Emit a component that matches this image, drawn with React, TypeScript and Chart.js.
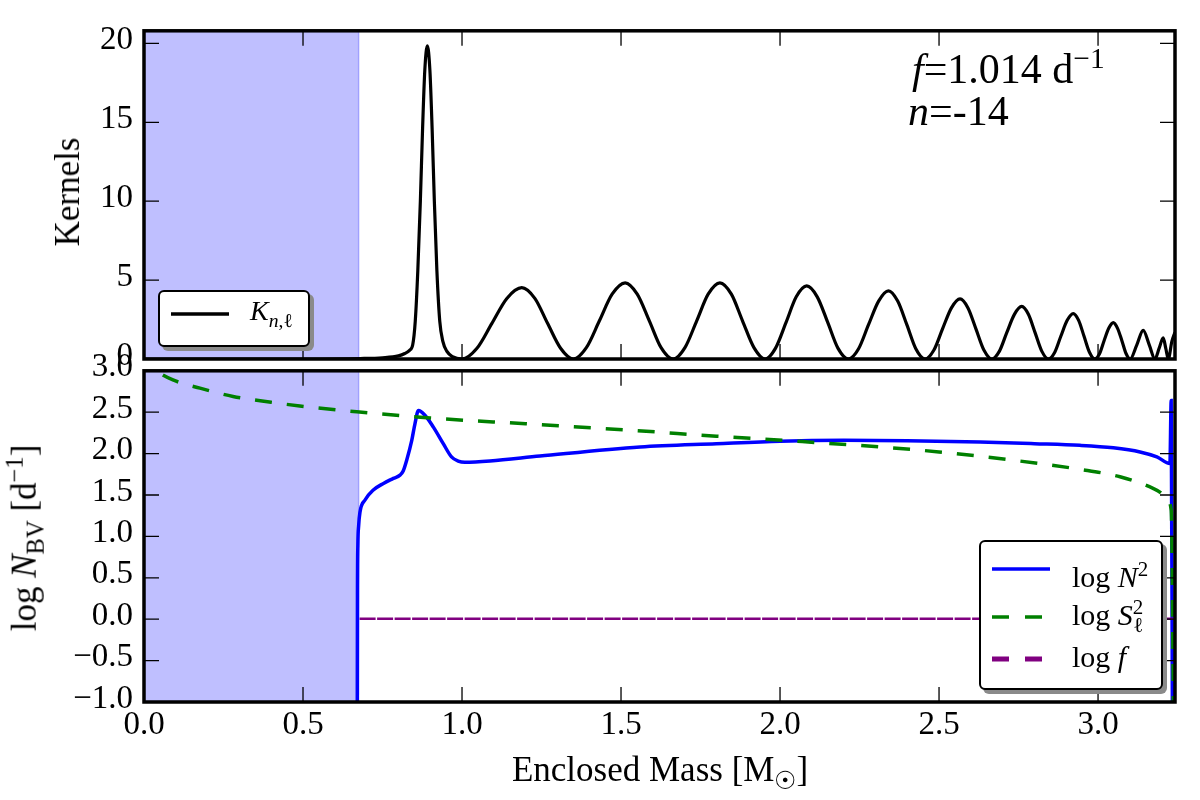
import { useEffect, useRef } from "react";
import type { ReactNode, CSSProperties } from "react";
import { Chart, registerables } from "chart.js";
import type { Plugin } from "chart.js";

Chart.register(...registerables);

//  Data

const CORE_EDGE = 0.675; // edge of the shaded convective core, M_sun
const MASS_MAX = 3.242;
const KERNEL_MAX = 20.8;
const LOGN_MIN = -1;
const LOGN_MAX = 3;

const MASS_TICKS = [0, 0.5, 1, 1.5, 2, 2.5, 3];
const KERNEL_TICKS = [0, 5, 10, 15, 20];
const LOGN_TICKS = [-1, -0.5, 0, 0.5, 1, 1.5, 2, 2.5, 3];

// kernel K_{n,l}
const KERNEL_MASS = [
  0, 0.5, 0.68, 0.75, 0.8, 0.82, 0.835, 0.845, 0.853, 0.861, 0.869, 0.876,
  0.883, 0.891, 0.899, 0.906, 0.913, 0.921, 0.93, 0.94, 0.952, 0.97, 1.0,
  1.047, 1.094, 1.141, 1.188, 1.229, 1.269, 1.31, 1.35,
  1.391, 1.432, 1.472, 1.513, 1.551, 1.589, 1.626, 1.664,
  1.701, 1.738, 1.774, 1.811, 1.847, 1.882, 1.918, 1.953,
  1.986, 2.019, 2.051, 2.084, 2.117, 2.15, 2.182, 2.215,
  2.247, 2.278, 2.31, 2.341, 2.37, 2.399, 2.427, 2.456,
  2.484, 2.511, 2.539, 2.566, 2.591, 2.616, 2.641, 2.666,
  2.69, 2.713, 2.737, 2.76, 2.781, 2.802, 2.823, 2.844,
  2.864, 2.883, 2.903, 2.922, 2.939, 2.956, 2.973, 2.99,
  3.005, 3.019, 3.034, 3.048, 3.061, 3.075, 3.088, 3.101,
  3.122, 3.142, 3.161, 3.179,
  3.192, 3.205, 3.213, 3.221,
  3.232, 3.242,
];
const KERNEL_VALUE = [
  0, 0, 0.03, 0.08, 0.2, 0.35, 0.55, 0.9, 2.4, 5.6, 10.0, 14.6,
  18.3, 19.85, 18.3, 14.6, 10.0, 5.6, 2.4, 1.1, 0.5, 0.15, 0,
  0.68, 2.26, 3.84, 4.52, 3.84, 2.26, 0.68, 0,
  0.72, 2.42, 4.11, 4.83, 4.11, 2.42, 0.72, 0,
  0.72, 2.42, 4.11, 4.83, 4.11, 2.42, 0.72, 0,
  0.69, 2.32, 3.94, 4.63, 3.94, 2.32, 0.69, 0,
  0.65, 2.16, 3.67, 4.32, 3.67, 2.16, 0.65, 0,
  0.57, 1.91, 3.24, 3.81, 3.24, 1.91, 0.57, 0,
  0.5, 1.67, 2.83, 3.33, 2.83, 1.67, 0.5, 0,
  0.43, 1.44, 2.45, 2.88, 2.45, 1.44, 0.43, 0,
  0.35, 1.16, 1.96, 2.31, 1.96, 1.16, 0.35, 0,
  0.9, 1.81, 0.9, 0,
  0.67, 1.34, 0.67, 0,
  1.1, 1.7,
];

// log N^2 (Brunt-Vaisala)
const N2_MASS = [
  0.6705, 0.6712, 0.6725, 0.675, 0.679, 0.695, 0.721, 0.753, 0.784, 0.805,
  0.815, 0.826, 0.842, 0.852, 0.863, 0.884, 0.91, 0.941, 0.967, 0.988, 1.009,
  1.088, 1.245, 1.56, 1.8, 2.0, 2.2, 2.4, 2.629, 2.8, 2.943, 3.048, 3.132,
  3.185, 3.226, 3.23, 3.234,
];
const N2_LOG = [
  -1.5, 0.3, 0.9, 1.13, 1.29, 1.44, 1.56, 1.64, 1.7, 1.74,
  1.79, 1.92, 2.16, 2.36, 2.52, 2.46, 2.32, 2.12, 1.96, 1.91, 1.895,
  1.91, 1.97, 2.08, 2.12, 2.15, 2.16, 2.155, 2.14, 2.12, 2.1, 2.07, 2.02,
  1.96, 1.88, 2.64, -1.5,
];

// log S_l^2 (Lamb)
const S2_MASS = [
  0, 0.02, 0.04, 0.091, 0.176, 0.28, 0.4, 0.49, 0.669, 0.9, 1.2, 1.539,
  1.8, 2.05, 2.314, 2.5, 2.733, 2.943, 3.069, 3.173, 3.2, 3.218, 3.23, 3.238,
];
const S2_LOG = [
  3.25, 3.08, 3.0, 2.89, 2.79, 2.69, 2.62, 2.575, 2.505, 2.43, 2.36, 2.28,
  2.21, 2.15, 2.08, 2.02, 1.92, 1.81, 1.72, 1.58, 1.52, 1.44, 1.32, -1.5,
];

// log f, f = 1.014 d^-1
const F_MASS = [0.678, 3.236];
const F_LOG = [0.006, 0.006];

//  Styling

const SERIF = "'Liberation Serif', 'DejaVu Serif', serif";
const TICK_FONT = { family: "'Liberation Serif', serif", size: 33 };
const TICK_LEN = 15;

const pts = (xs: number[], ys: number[]) => xs.map((x, i) => ({ x, y: ys[i] }));

const fmtLog = (v: number) =>
  v < 0 ? "\u2212" + Math.abs(v).toFixed(1) : v.toFixed(1);

// shaded core, inward ticks on all four sides, heavy frame
const panelDecor: Plugin<"line"> = {
  id: "panelDecor",
  beforeDatasetsDraw(chart) {
    const { ctx, chartArea: a, scales } = chart;
    const edge = scales.x.getPixelForValue(CORE_EDGE);
    ctx.save();
    ctx.fillStyle = "rgba(0,0,255,0.25)";
    ctx.fillRect(a.left, a.top, edge - a.left, a.bottom - a.top);
    ctx.strokeStyle = "rgba(0,0,255,0.25)";
    ctx.lineWidth = 1.5;
    ctx.beginPath();
    ctx.moveTo(edge, a.top);
    ctx.lineTo(edge, a.bottom);
    ctx.stroke();
    ctx.restore();
  },
  afterDraw(chart) {
    const { ctx, chartArea: a, scales } = chart;
    ctx.save();
    ctx.strokeStyle = "#000";
    ctx.lineWidth = 1.3;
    ctx.beginPath();
    scales.x.ticks.forEach((t) => {
      const px = scales.x.getPixelForValue(t.value);
      ctx.moveTo(px, a.bottom);
      ctx.lineTo(px, a.bottom - TICK_LEN);
      ctx.moveTo(px, a.top);
      ctx.lineTo(px, a.top + TICK_LEN);
    });
    scales.y.ticks.forEach((t) => {
      const py = scales.y.getPixelForValue(t.value);
      ctx.moveTo(a.left, py);
      ctx.lineTo(a.left + TICK_LEN, py);
      ctx.moveTo(a.right, py);
      ctx.lineTo(a.right - TICK_LEN, py);
    });
    ctx.stroke();
    ctx.lineWidth = 3.5;
    ctx.strokeRect(a.left, a.top, a.right - a.left, a.bottom - a.top);
    ctx.restore();
  },
};

function xScale(showLabels: boolean, height: number) {
  return {
    type: "linear" as const,
    min: 0,
    max: MASS_MAX,
    afterBuildTicks: (s: any) => {
      s.ticks = MASS_TICKS.map((value) => ({ value }));
    },
    afterFit: (s: any) => {
      s.height = height;
    },
    grid: { display: false, drawTicks: false },
    border: { display: false },
    ticks: {
      display: showLabels,
      autoSkip: false,
      maxRotation: 0,
      padding: 4,
      color: "#000",
      font: TICK_FONT,
      callback: (v: any) => Number(v).toFixed(1),
    },
  };
}

function yScale(
  min: number,
  max: number,
  ticks: number[],
  fmt: (v: number) => string,
) {
  return {
    type: "linear" as const,
    min,
    max,
    afterBuildTicks: (s: any) => {
      s.ticks = ticks.map((value) => ({ value }));
    },
    afterFit: (s: any) => {
      s.width = 144;
    },
    grid: { display: false, drawTicks: false },
    border: { display: false },
    ticks: {
      autoSkip: false,
      padding: 11,
      labelOffset: -3,
      color: "#000",
      font: TICK_FONT,
      callback: (v: any) => fmt(Number(v)),
    },
  };
}

//  Component

export default function App() {
  const topRef = useRef<HTMLCanvasElement>(null);
  const botRef = useRef<HTMLCanvasElement>(null);

  useEffect(() => {
    if (!topRef.current || !botRef.current) return;

    const top = new Chart(topRef.current, {
      type: "line",
      data: {
        datasets: [
          {
            label: "K",
            data: pts(KERNEL_MASS, KERNEL_VALUE),
            borderColor: "#000",
            borderWidth: 3.2,
            pointRadius: 0,
            cubicInterpolationMode: "monotone",
          },
        ],
      },
      options: {
        responsive: false,
        animation: false,
        layout: { padding: { top: 23, right: 25, left: 0, bottom: 0 } },
        plugins: { legend: { display: false }, tooltip: { enabled: false } },
        scales: {
          x: xScale(false, 41),
          y: yScale(0, KERNEL_MAX, KERNEL_TICKS, (v) => String(Math.round(v))),
        },
      },
      plugins: [panelDecor],
    });

    const bottom = new Chart(botRef.current, {
      type: "line",
      data: {
        datasets: [
          {
            label: "log f",
            data: pts(F_MASS, F_LOG),
            borderColor: "#800080",
            borderWidth: 2.5,
            borderDash: [16, 1.5],
            pointRadius: 0,
          },
          {
            label: "log S2",
            data: pts(S2_MASS, S2_LOG),
            borderColor: "#008000",
            borderWidth: 3.5,
            borderDash: [17, 15],
            pointRadius: 0,
            cubicInterpolationMode: "monotone",
          },
          {
            label: "log N2",
            data: pts(N2_MASS, N2_LOG),
            borderColor: "#0000ff",
            borderWidth: 3.5,
            pointRadius: 0,
            cubicInterpolationMode: "monotone",
          },
        ],
      },
      options: {
        responsive: false,
        animation: false,
        layout: { padding: { top: 26, right: 25, left: 0, bottom: 0 } },
        plugins: { legend: { display: false }, tooltip: { enabled: false } },
        scales: {
          x: xScale(true, 98),
          y: yScale(LOGN_MIN, LOGN_MAX, LOGN_TICKS, fmtLog),
        },
      },
      plugins: [panelDecor],
    });

    return () => {
      top.destroy();
      bottom.destroy();
    };
  }, []);

  return (
    <div
      style={{
        position: "absolute",
        left: 0,
        top: 0,
        width: 1200,
        height: 800,
        background: "#fff",
        overflow: "hidden",
        fontFamily: SERIF,
        color: "#000",
      }}
    >
      <canvas
        ref={topRef}
        width={1200}
        height={400}
        style={{ position: "absolute", left: 0, top: 0 }}
      />
      <canvas
        ref={botRef}
        width={1200}
        height={460}
        style={{ position: "absolute", left: 0, top: 340 }}
      />

      {/* axis titles */}
      <VTitle cx={68} cy={192} size={35}>
        Kernels
      </VTitle>
      <VTitle cx={25} cy={538} size={35}>
        log <i>N</i>
        <sub style={{ fontSize: "0.7em" }}>BV</sub> [d
        <sup style={{ fontSize: "0.7em" }}>{"\u22121"}</sup>]
      </VTitle>
      <Label x={660} y={782} size={35} center>
        Enclosed Mass [M<sub style={{ fontSize: "0.7em" }}>{"\u2609"}</sub>]
      </Label>

      {/* mode annotation */}
      <Label x={912} y={72} size={42}>
        <i>f</i>=1.014 d<sup style={{ fontSize: "0.7em" }}>{"\u22121"}</sup>
      </Label>
      <Label x={908} y={125} size={42}>
        <i>n</i>=-14
      </Label>

      {/* kernel legend */}
      <LegendBox left={158} top={290} width={152} height={57} />
      <Swatch left={170} y={314} color="#000" width={3.5} />
      <Label x={250} y={320} size={28}>
        <i>K</i>
        <sub style={{ fontSize: "0.7em" }}>
          <i>n</i>,{"\u2113"}
        </sub>
      </Label>

      {/* frequency legend */}
      <LegendBox left={979} top={540} width={184} height={150} />
      <Swatch left={991} y={569} color="#0000ff" width={3.5} />
      <Label x={1072} y={579} size={30}>
        log <i>N</i>
        <sup style={{ fontSize: "0.7em" }}>2</sup>
      </Label>
      <Swatch left={991} y={617} color="#008000" width={3.5} dash="17 16" />
      <Label x={1072} y={617} size={30}>
        log <i>S</i>
        <sup style={{ fontSize: "0.7em" }}>2</sup>
        <sub style={{ fontSize: "0.7em", marginLeft: -10 }}>{"\u2113"}</sub>
      </Label>
      <Swatch left={991} y={659} color="#800080" width={5} dash="17 16" />
      <Label x={1072} y={667} size={30}>
        log <i>f</i>
      </Label>
    </div>
  );
}

//  Sub-components

function Label({
  x,
  y,
  size,
  center,
  children,
}: {
  x: number;
  y: number; // baseline
  size: number;
  center?: boolean;
  children: ReactNode;
}) {
  const style: CSSProperties = {
    position: "absolute",
    left: x,
    top: y - 0.3375 * size,
    fontSize: size,
    lineHeight: 0,
    whiteSpace: "nowrap",
    transform: center ? "translateX(-50%)" : undefined,
  };
  return <div style={style}>{children}</div>;
}

function VTitle({
  cx,
  cy,
  size,
  children,
}: {
  cx: number;
  cy: number;
  size: number;
  children: ReactNode;
}) {
  return (
    <div
      style={{
        position: "absolute",
        left: cx,
        top: cy,
        fontSize: size,
        lineHeight: "normal",
        whiteSpace: "nowrap",
        transform: "translate(-50%, -50%) rotate(-90deg)",
      }}
    >
      {children}
    </div>
  );
}

function LegendBox({
  left,
  top,
  width,
  height,
}: {
  left: number;
  top: number;
  width: number;
  height: number;
}) {
  return (
    <div
      style={{
        position: "absolute",
        left,
        top,
        width,
        height,
        boxSizing: "border-box",
        border: "2.5px solid #000",
        borderRadius: 6,
        background: "#fff",
        boxShadow: "4px 4px 0 #8a8a8a",
      }}
    />
  );
}

function Swatch({
  left,
  y,
  color,
  width,
  dash,
}: {
  left: number;
  y: number;
  color: string;
  width: number;
  dash?: string;
}) {
  return (
    <svg
      width={60}
      height={12}
      style={{ position: "absolute", left, top: y - 6 }}
    >
      <line
        x1={1}
        y1={6}
        x2={59}
        y2={6}
        stroke={color}
        strokeWidth={width}
        strokeDasharray={dash}
      />
    </svg>
  );
}
